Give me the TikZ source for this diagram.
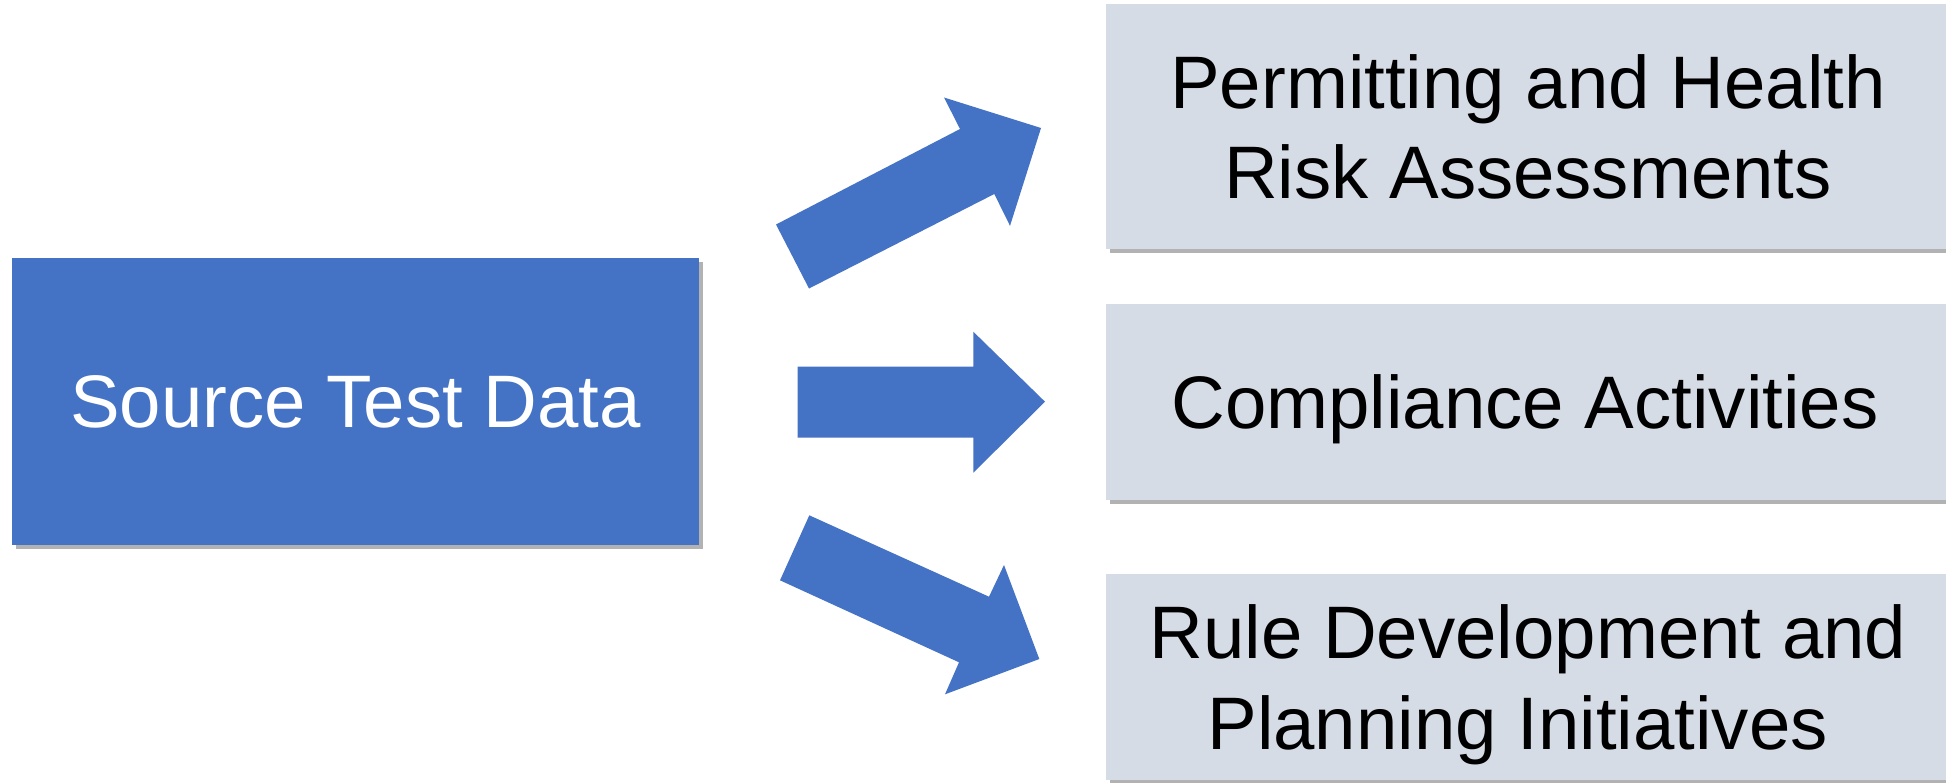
\documentclass[tikz,border=0pt]{standalone}
\usepackage{fontspec}
\setmainfont{Liberation Sans}
\usetikzlibrary{shadows}
\definecolor{accentblue}{HTML}{4472C4}
\definecolor{paleblue}{HTML}{D6DCE5}
\begin{document}
\begin{tikzpicture}[x=0.5pt,y=-0.5pt,
  bigtext/.style={font=\fontsize{37.2pt}{45.2pt}\selectfont, align=center, inner sep=0pt, text depth=0pt},
  softshadow/.style={drop shadow={shadow xshift=2pt, shadow yshift=-2.2pt, opacity=0.3, fill=black}},
  srcbox/.style={bigtext, fill=accentblue, text=white, draw=none,
    minimum width=343.5pt, minimum height=143.5pt, softshadow},
  outbox/.style={bigtext, fill=paleblue, text=black, draw=none,
    minimum width=422pt, softshadow},
  blockarrow/.style={fill=accentblue, draw=none}]
\useasboundingbox (0,0) rectangle (1946,782);
\fill[white] (0,0) rectangle (1946,782);

% boxes
\node[srcbox] (src) at (355.5,401.5) {Source Test Data};
\node[outbox, minimum height=122.5pt] (out1) at (1528,126.5) {Permitting and Health\\Risk Assessments};
\node[outbox, minimum height=98pt] (out2) at (1528,402) {Compliance Activities\hspace*{0.08em}};
\node[outbox, minimum height=103pt] (out3) at (1528,677) {Rule Development and\\Planning Initiatives\hspace*{0.278em}};

% block arrows
\fill[blockarrow] (776,224.5) -- (960,129) -- (944,97.5) -- (1041,128)
  -- (1010,225.8) -- (994.3,194) -- (809,288.5) -- cycle;
\fill[blockarrow] (797.7,366.7) -- (973.3,366.7) -- (973.3,331.7) -- (1045,401.7)
  -- (973.3,472.7) -- (973.3,437.7) -- (797.7,437.7) -- cycle;
\fill[blockarrow] (809.3,515.3) -- (989,596.7) -- (1004,565) -- (1039.3,659)
  -- (945,694.3) -- (959,662.3) -- (780,580.3) -- cycle;
\end{tikzpicture}
\end{document}
